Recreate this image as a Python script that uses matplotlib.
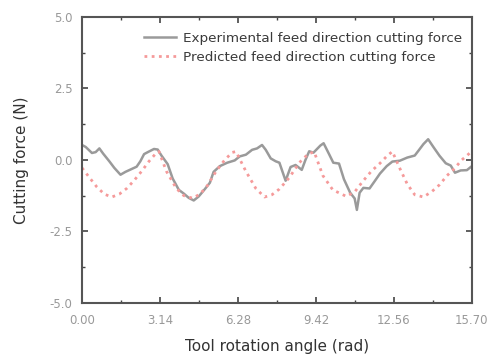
import matplotlib
matplotlib.use("Agg")
import matplotlib.pyplot as plt
from matplotlib.ticker import MultipleLocator, FixedLocator

plt.rcParams['font.family'] = ['DejaVu Sans']

# Experimental feed direction cutting force
exp_x = [0.00, 0.15, 0.40, 0.55, 0.70, 0.85, 1.10, 1.30, 1.55, 1.75, 2.00, 2.20, 2.35, 2.50,
         2.65, 2.90, 3.05, 3.20, 3.45, 3.65, 3.90, 4.10, 4.30, 4.50, 4.70, 4.95, 5.15, 5.30,
         5.55, 5.85, 6.15, 6.35, 6.60, 6.85, 7.05, 7.25, 7.40, 7.60, 7.80, 7.95, 8.20, 8.40,
         8.60, 8.85, 9.00, 9.15, 9.32, 9.60, 9.73, 9.95, 10.12, 10.35, 10.55, 10.80, 10.98,
         11.07, 11.18, 11.33, 11.58, 11.80, 12.00, 12.27, 12.50, 12.80, 13.10, 13.40, 13.55,
         13.75, 13.94, 14.15, 14.40, 14.65, 14.85, 15.02, 15.25, 15.50, 15.70]
exp_y = [0.52, 0.45, 0.24, 0.27, 0.40, 0.22, -0.05, -0.28, -0.52, -0.42, -0.32, -0.24, -0.05, 0.20,
         0.27, 0.38, 0.36, 0.15, -0.15, -0.65, -1.05, -1.18, -1.33, -1.42, -1.28, -1.02, -0.80, -0.42,
         -0.22, -0.10, -0.02, 0.12, 0.18, 0.35, 0.40, 0.52, 0.35, 0.05, -0.05, -0.10, -0.73, -0.25,
         -0.18, -0.35, 0.00, 0.30, 0.25, 0.50, 0.58, 0.20, -0.10, -0.13, -0.68, -1.15, -1.35,
         -1.75, -1.15, -0.98, -1.00, -0.73, -0.48, -0.22, -0.06, -0.03, 0.08, 0.15, 0.32,
         0.55, 0.72, 0.45, 0.14, -0.12, -0.20, -0.45, -0.37, -0.36, -0.22]

# Predicted feed direction cutting force
pred_x = [0.00, 0.30, 0.60, 0.90, 1.20, 1.50, 1.80, 2.10, 2.40, 2.70, 2.95, 3.10,
          3.40, 3.80, 4.10, 4.45, 4.75, 5.05, 5.40, 5.75, 6.05, 6.20,
          6.60, 7.00, 7.35, 7.65, 7.95, 8.35, 8.75, 9.10, 9.35,
          9.70, 10.10, 10.65, 11.00, 11.30, 11.65, 12.00, 12.30, 12.50,
          12.80, 13.10, 13.40, 13.75, 14.10, 14.40, 14.70, 14.95, 15.30, 15.70]
pred_y = [-0.28, -0.62, -0.95, -1.20, -1.30, -1.20, -1.00, -0.72, -0.40, -0.05, 0.20, 0.29,
          -0.40, -1.00, -1.25, -1.34, -1.20, -0.90, -0.40, 0.00, 0.26, 0.29,
          -0.40, -1.00, -1.30, -1.22, -1.02, -0.62, -0.10, 0.20, 0.28,
          -0.55, -1.05, -1.28, -1.10, -0.76, -0.40, -0.12, 0.15, 0.29,
          -0.30, -0.85, -1.22, -1.30, -1.10, -0.87, -0.55, -0.35, 0.00, 0.30]

x_ticks = [0.00, 3.14, 6.28, 9.42, 12.56, 15.70]
x_ticklabels = ["0.00", "3.14", "6.28", "9.42", "12.56", "15.70"]
y_ticks = [-5.0, -2.5, 0.0, 2.5, 5.0]

fig = plt.figure(figsize=(4.91, 3.58), dpi=100)
ax = fig.add_axes([0.167, 0.154, 0.794, 0.799])

ax.plot(exp_x, exp_y, color='#9a9a9a', lw=1.8, label='Experimental feed direction cutting force')
ax.plot(pred_x, pred_y, color='#f59a9a', lw=2.0, linestyle=(0, (1, 1.6)),
        label='Predicted feed direction cutting force')

ax.set_xlim(0, 15.70)
ax.set_ylim(-5, 5)
ax.set_xticks(x_ticks)
ax.set_xticklabels(x_ticklabels)
ax.xaxis.set_minor_locator(FixedLocator([1.57, 4.71, 7.85, 10.99, 14.13]))
ax.set_yticks(y_ticks)
ax.set_yticklabels([f"{v:.1f}" for v in y_ticks])
ax.yaxis.set_minor_locator(MultipleLocator(1.25))

ax.tick_params(which='both', direction='in', top=True, right=True, color='#444444',
               labelcolor='#999999', labelsize=8.5)
ax.tick_params(axis='x', which='major', pad=8)
ax.tick_params(axis='y', which='major', pad=7)
ax.tick_params(which='major', length=4, width=1.2)
ax.tick_params(which='minor', length=2.5, width=1.0)
for s in ax.spines.values():
    s.set_color('#555555')
    s.set_linewidth(1.5)

ax.set_xlabel('Tool rotation angle (rad)', fontsize=11, color='#333333')
ax.set_ylabel('Cutting force (N)', fontsize=11, color='#333333')
ax.xaxis.set_label_coords(0.5, -0.125)
ax.yaxis.set_label_coords(-0.135, 0.5)

leg = ax.legend(loc='upper right', frameon=False, fontsize=9.7, handlelength=2.4,
                handletextpad=0.5, labelspacing=0.45, borderaxespad=0.0,
                bbox_to_anchor=(0.989, 0.967))
for t in leg.get_texts():
    t.set_color('#3a3a3a')

fig.savefig('out.png', dpi=100)
